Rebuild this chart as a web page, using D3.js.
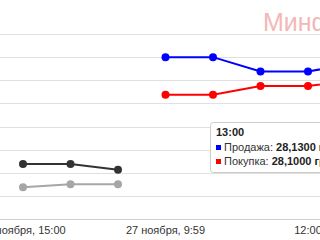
<!DOCTYPE html>
<html>
<head>
<meta charset="utf-8">
<script src="https://cdn.jsdelivr.net/npm/d3@7"></script>
<style>
	body { margin: 0; background: #fff; }
	svg { display: block; font-family: "Liberation Sans", Arial, sans-serif; }
</style>
</head>
<body>
<div id="chart"></div>
<script>
// x positions are point indices; only some carry a tick label
const tickIndex = [0, 3, 6];
const tickLabels = ["26 ноября, 15:00", "27 ноября, 9:59", "12:00"];

// older day (sell / buy) and the current day (sell / buy)
const oldSell = [27.955, 27.955, 27.945];
const oldBuy = [27.915, 27.92, 27.92];
const sellIdx = [3, 4, 5, 6, 7];
const sell = [28.14, 28.14, 28.115, 28.115, 28.13];
const buy = [28.075, 28.075, 28.09, 28.09, 28.10];

const gridValues = [27.86, 27.90, 27.94, 27.98, 28.02, 28.06, 28.10, 28.14, 28.18];

const width = 320, height = 240;

const svg = d3.select("#chart").append("svg")
	.attr("width", width)
	.attr("height", height);

const x = d3.scaleLinear().domain([0, 7]).range([23, 355.5]);
const y = d3.scaleLinear().domain([27.86, 28.18]).range([219, 34]);

// horizontal grid lines
svg.append("g")
	.selectAll("line")
	.data(gridValues)
	.join("line")
	.attr("x1", 0)
	.attr("x2", width)
	.attr("y1", d => Math.round(y(d)) + 0.5)
	.attr("y2", d => Math.round(y(d)) + 0.5)
	.attr("stroke", d => d === 27.86 ? "#cfcfcf" : "#e0e0e0")
	.attr("stroke-width", 1);

// watermark
svg.append("text")
	.attr("x", 263)
	.attr("y", 31)
	.attr("font-size", 25)
	.attr("fill", "#f3b7b7")
	.text("Минфин");

// x axis labels
svg.append("g")
	.selectAll("text")
	.data(tickIndex)
	.join("text")
	.attr("x", d => x(d))
	.attr("y", 234)
	.attr("text-anchor", "middle")
	.attr("font-size", 11)
	.attr("fill", "#333")
	.text((d, i) => tickLabels[i]);

function series(idx, vals, color) {
	const pts = idx.map((d, i) => [d, vals[i]]);
	svg.append("path")
		.datum(pts)
		.attr("fill", "none")
		.attr("stroke", color)
		.attr("stroke-width", 2)
		.attr("d", d3.line().x(d => x(d[0])).y(d => y(d[1])));
	svg.append("g")
		.selectAll("circle")
		.data(pts)
		.join("circle")
		.attr("cx", d => x(d[0]))
		.attr("cy", d => y(d[1]))
		.attr("r", 4)
		.attr("fill", color);
}

series([0, 1, 2], oldBuy, "#a6a6a6");
series([0, 1, 2], oldSell, "#333333");
series(sellIdx, buy, "#ff0000");
series(sellIdx, sell, "#0000ff");

// tooltip
const tip = svg.append("g").attr("transform", "translate(210,122)");
tip.append("rect")
	.attr("x", 0.5).attr("y", 0.5)
	.attr("width", 130).attr("height", 50)
	.attr("rx", 3)
	.attr("fill", "#fff")
	.attr("stroke", "#cccccc");
tip.append("text")
	.attr("x", 6).attr("y", 14)
	.attr("font-size", 11)
	.attr("font-weight", "bold")
	.attr("fill", "#222")
	.text("13:00");
const rows = [
	["Продажа: ", "28,1300 грн", "#0000ff"],
	["Покупка: ", "28,1000 грн", "#ff0000"]
];
rows.forEach((r, i) => {
	tip.append("rect")
		.attr("x", 6).attr("y", 23 + i * 14)
		.attr("width", 5).attr("height", 5)
		.attr("fill", r[2]);
	const t = tip.append("text")
		.attr("x", 14).attr("y", 29 + i * 14)
		.attr("font-size", 11)
		.attr("fill", "#333");
	t.append("tspan").text(r[0]);
	t.append("tspan").attr("font-weight", "bold").attr("fill", "#222").text(r[1]);
});
</script>
</body>
</html>
